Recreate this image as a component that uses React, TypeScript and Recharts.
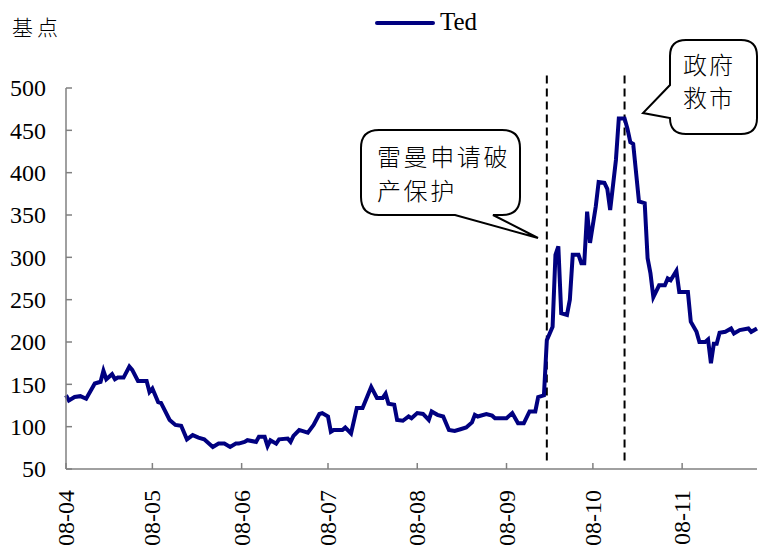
import { LineChart, Line, XAxis, YAxis, ReferenceLine, Customized } from 'recharts';

// trading-day offsets from 2008-04-01 and the TED spread (bp)
const days = [
  0, 1, 3, 5, 7, 10, 12, 13, 14, 16, 17, 18, 20, 22, 23, 25, 28, 29, 30, 32,
  33, 36, 38, 40, 42, 44, 46, 48, 51, 53, 55, 57, 59, 60, 62, 63, 66, 67, 69, 70,
  71, 73, 74, 77, 78, 79, 81, 82, 84, 86, 88, 89, 91, 92, 93, 96, 97, 99, 101, 103,
  106, 108, 110, 111, 112, 114, 115, 117, 119, 120, 122, 124, 126, 127, 129, 131, 133, 135, 137, 139,
  141, 142, 143, 146, 148, 149, 153, 155, 157, 159, 161, 163, 164, 166, 167, 169, 170, 171, 172, 174,
  175, 176, 178, 179, 180, 181, 182, 184, 185, 187, 188, 189, 191, 192, 194, 195, 196, 197, 199, 201,
  202, 203, 204, 206, 208, 209, 210, 212, 213, 216, 217, 219, 220, 222, 223, 224, 225, 226, 227, 229,
  231, 232, 234, 237, 238, 240,
];
const ted = [
  137, 131, 135, 136, 133, 151, 153, 166, 156, 162, 156, 158, 158, 171, 167, 154, 154, 141, 145, 129,
  128, 108, 102, 101, 85, 90, 87, 85, 76, 80, 80, 76, 80, 80, 82, 84, 82, 88, 88, 77,
  84, 80, 85, 86, 82, 89, 96, 95, 93, 102, 115, 116, 112, 94, 96, 96, 99, 92, 122, 122,
  147, 134, 134, 139, 127, 126, 108, 107, 112, 110, 116, 115, 108, 118, 114, 112, 96, 95, 97, 99,
  105, 114, 112, 115, 113, 110, 110, 116, 104, 104, 118, 118, 135, 137, 202, 218, 303, 313, 234, 232,
  250, 303, 303, 293, 293, 354, 317, 360, 389, 388, 381, 356, 415, 464, 464, 452, 436, 434, 366, 364,
  299, 281, 253, 267, 267, 275, 273, 284, 259, 259, 224, 212, 200, 200, 203, 175, 198, 198, 211, 212,
  216, 210, 214, 216, 212, 216,
];

const monthTicks = [0, 30, 61, 91, 122, 153, 183, 214];
const monthLabels = ['08-04', '08-05', '08-06', '08-07', '08-08', '08-09', '08-10', '08-11'];
const yTicks = [50, 100, 150, 200, 250, 300, 350, 400, 450, 500];

const lehmanDay = 167;
const rescueDay = 194;

const data = days.map((d, i) => ({ day: d, ted: ted[i] }));

const serif = '"Liberation Serif", "DejaVu Serif", serif';
const cjk = '"Noto Sans CJK SC", sans-serif';
const axisGray = '#808080';

const YTick = ({ x, y, payload }: any) => (
  <g>
    <line x1={x} y1={y} x2={x + 6} y2={y} stroke={axisGray} strokeWidth={1.5} />
    <text x={x - 20} y={y} dy="0.35em" textAnchor="end" fontFamily={serif} fontSize={24} fill="#000">
      {payload.value}
    </text>
  </g>
);

const XTick = ({ x, y, payload }: any) => {
  const idx = monthTicks.indexOf(payload.value);
  return (
    <g>
      <line x1={x} y1={y} x2={x} y2={y - 6} stroke={axisGray} strokeWidth={1.5} />
      <g transform={`translate(${x + 8},${y + 21}) rotate(-90)`}>
        <text x={0} y={0} textAnchor="end" fontFamily={serif} fontSize={24} fill="#000">
          {monthLabels[idx]}
        </text>
      </g>
    </g>
  );
};

// legend, unit label and the two speech-bubble notes
const Notes = () => (
  <g>
    <text x={12} y={35} fontFamily={cjk} fontSize={21} fontWeight={300} letterSpacing={4} fill="#000">
      基点
    </text>
    <line x1={377} y1={23} x2={433} y2={23} stroke="#000080" strokeWidth={4} strokeLinecap="round" />
    <text x={440} y={30} fontFamily={serif} fontSize={25} fill="#000">
      Ted
    </text>

    <path
      d="M 379,130 H 502 Q 520,130 520,148 V 197 Q 520,215 502,215 H 493 L 538,238 L 455,215 H 379 Q 361,215 361,197 V 148 Q 361,130 379,130 Z"
      fill="#fff"
      stroke="#000"
      strokeWidth={2}
    />
    <text x={377} y={166} fontFamily={cjk} fontSize={24} fontWeight={300} letterSpacing={2.6} fill="#000">
      雷曼申请破
    </text>
    <text x={377} y={200} fontFamily={cjk} fontSize={24} fontWeight={300} letterSpacing={2.6} fill="#000">
      产保护
    </text>

    <path
      d="M 686,40 H 741 Q 757,40 757,56 V 118 Q 757,134 741,134 H 686 Q 670,134 670,118 L 643,113 L 670,85 V 56 Q 670,40 686,40 Z"
      fill="#fff"
      stroke="#000"
      strokeWidth={2}
    />
    <text x={683} y={74} fontFamily={cjk} fontSize={24} fontWeight={300} letterSpacing={2} fill="#000">
      政府
    </text>
    <text x={683} y={107} fontFamily={cjk} fontSize={24} fontWeight={300} letterSpacing={2} fill="#000">
      救市
    </text>
  </g>
);

export default function App() {
  return (
    <div style={{ position: 'absolute', left: 0, top: 0, background: '#fff' }}>
      <LineChart width={759} height={552} data={data} margin={{ top: 88, right: 2, left: 0, bottom: 0 }}>
        <XAxis
          dataKey="day"
          type="number"
          domain={[0, 240]}
          ticks={monthTicks}
          interval={0}
          height={83}
          tickSize={0}
          tickMargin={0}
          tick={<XTick />}
          stroke={axisGray}
          strokeWidth={1.5}
        />
        <YAxis
          type="number"
          domain={[50, 500]}
          ticks={yTicks}
          interval={0}
          width={66}
          tickSize={0}
          tickMargin={0}
          tick={<YTick />}
          stroke={axisGray}
          strokeWidth={1.5}
          allowDataOverflow
        />
        <ReferenceLine
          segment={[{ x: lehmanDay, y: 60 }, { x: lehmanDay, y: 519 }]}
          stroke="#000"
          strokeWidth={2}
          strokeDasharray="8 5"
          ifOverflow="visible"
        />
        <ReferenceLine
          segment={[{ x: rescueDay, y: 60 }, { x: rescueDay, y: 519 }]}
          stroke="#000"
          strokeWidth={2}
          strokeDasharray="8 5"
          ifOverflow="visible"
        />
        <Line
          type="linear"
          dataKey="ted"
          stroke="#000080"
          strokeWidth={4}
          dot={false}
          activeDot={false}
          isAnimationActive={false}
        />
        <Customized component={Notes} />
      </LineChart>
    </div>
  );
}
